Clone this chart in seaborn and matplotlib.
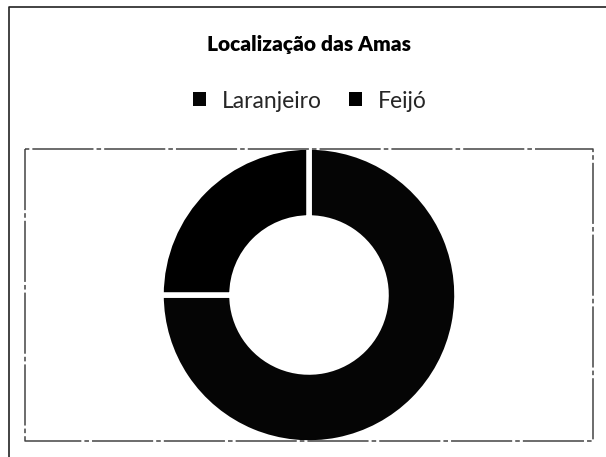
import matplotlib
matplotlib.use("Agg")
import matplotlib.pyplot as plt
from matplotlib.patches import Patch
import seaborn as sns

# data
labels = ["Laranjeiro", "Feijó"]
shares = [75, 25]
title = "Localização das Amas"

sns.set_theme(style="white")
plt.rcParams["font.family"] = ["Lato", "DejaVu Sans"]
colors = ["#050505", "#000000"]

fig = plt.figure(figsize=(6.06, 4.57), dpi=100)
ax = fig.add_axes([0, 0, 1, 1])

# donut, first slice clockwise from 12 o'clock like Excel
wedges, _ = ax.pie(shares, colors=colors, startangle=90, counterclock=False,
                   center=(309, 162), radius=148, frame=True,
                   wedgeprops=dict(width=71, edgecolor="white", linewidth=4))
ax.set_xlim(0, 606)
ax.set_ylim(0, 457)
ax.set_aspect("auto")
ax.axis("off")

# chart area frame (top and left only visible in the scan)
ax.plot([8.5, 8.5, 606], [0, 450.5, 450.5], color="#222222", lw=1.2)
# plot area frame
ax.plot([25, 25, 593, 593, 25], [308, 16, 16, 308, 308],
        color="#444444", lw=1.1, ls=(0, (40, 2, 3, 2)))

fig.text(309 / 606, 1 - 45 / 457, title, ha="center", va="center",
         fontsize=15, fontweight="heavy", color="black")

handles = [Patch(facecolor=c, edgecolor="none") for c in colors]
ax.legend(handles, labels, loc="center", bbox_to_anchor=(310 / 606, 1 - 101 / 457),
          bbox_transform=fig.transFigure, ncol=2, frameon=False, fontsize=16.5,
          handlelength=0.55, handleheight=0.55, handletextpad=0.7, columnspacing=1.2)

fig.savefig("out.png", dpi=100, facecolor="white")
